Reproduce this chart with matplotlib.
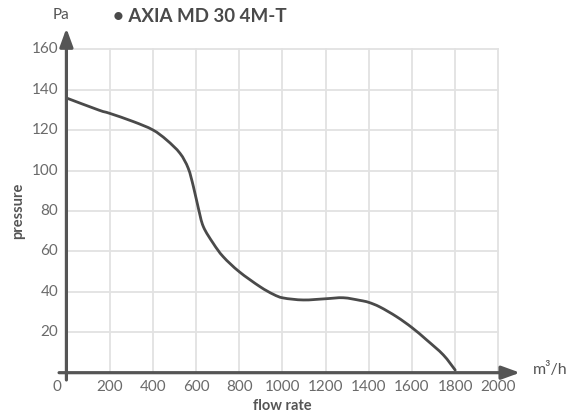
import matplotlib
matplotlib.use("Agg")
import matplotlib.pyplot as plt
from matplotlib.path import Path
from matplotlib.patches import PathPatch

# fan curve
flow = [0, 150, 200, 310, 400, 464, 526, 564, 588, 611, 634, 680, 726, 800,
        896, 958, 1004, 1097, 1200, 1282, 1359, 1400, 1452, 1529, 1600, 1668,
        1745, 1800]
pressure = [136, 130, 128.4, 124.3, 120.2, 115.2, 108.6, 101.2, 92.1, 81.4,
            72.3, 64, 57.4, 50, 42.6, 38.8, 37, 36, 36.6, 37.1, 35.8, 34.8,
            32.5, 27.7, 22.3, 16.2, 8.8, 1.3]

x_ticks = [200, 400, 600, 800, 1000, 1200, 1400, 1600, 1800, 2000]
y_ticks = [20, 40, 60, 80, 100, 120, 140, 160]

dark = "#555555"
grey = "#6a6a6a"
plt.rcParams['font.family'] = ['Lato', 'DejaVu Sans']

fig = plt.figure(figsize=(5.73, 4.18), dpi=100)
ax = fig.add_axes([0.1159, 0.1084, 0.7539, 0.7732])
ax.set_xlim(0, 2000)
ax.set_ylim(0, 160)
for s in ax.spines.values():
    s.set_visible(False)
ax.set_xticks([])
ax.set_yticks([])

# grid
for xv in x_ticks:
    ax.plot([xv, xv], [0, 160], color="#e2e2e2", lw=1.3, zorder=1, clip_on=False)
for yv in y_ticks:
    ax.plot([0, 2000], [yv, yv], color="#e2e2e2", lw=1.3, zorder=1, clip_on=False)

# smooth curve through the read points (catmull-rom as bezier segments)
pts = list(zip(flow, pressure))
verts = [pts[0]]
codes = [Path.MOVETO]
for i in range(len(pts) - 1):
    p0 = pts[max(i - 1, 0)]
    p1 = pts[i]
    p2 = pts[i + 1]
    p3 = pts[min(i + 2, len(pts) - 1)]
    c1 = (p1[0] + (p2[0] - p0[0]) / 6, p1[1] + (p2[1] - p0[1]) / 6)
    c2 = (p2[0] - (p3[0] - p1[0]) / 6, p2[1] - (p3[1] - p1[1]) / 6)
    verts += [c1, c2, p2]
    codes += [Path.CURVE4] * 3
ax.add_patch(PathPatch(Path(verts, codes), facecolor='none', edgecolor="#4a4a4a",
                       lw=2, zorder=3, capstyle='round'))

# axes with arrows
arrow = '-|>,head_length=0.55,head_width=0.2'
ax.annotate("", xy=(0, 170.5), xytext=(0, -3.6), annotation_clip=False,
            arrowprops=dict(arrowstyle=arrow, color=dark, lw=2.3,
                            mutation_scale=20, shrinkA=0, shrinkB=0))
ax.annotate("", xy=(2100, 0), xytext=(-34, 0), annotation_clip=False,
            arrowprops=dict(arrowstyle=arrow, color=dark, lw=2.3,
                            mutation_scale=20, shrinkA=0, shrinkB=0))

for xv in x_ticks:
    ax.text(xv, -7.1, str(xv), ha='center', va='center', fontsize=11, color=grey)
ax.text(-43, -7.1, "0", ha='center', va='center', fontsize=11, color=grey)
for yv in y_ticks:
    ax.text(-38, yv, str(yv), ha='right', va='center', fontsize=11, color=grey)

ax.text(-25, 177, "Pa", ha='center', va='center', fontsize=11, color=dark)
ax.text(215, 176.5, "• AXIA MD 30 4M-T", ha='left', va='center', fontsize=13.5,
        color="#4a4a4a", fontweight='bold')
ax.text(2160, 1.8, "m³/h", ha='left', va='center', fontsize=11.5, color=dark)
ax.text(1000, -16.5, "flow rate", ha='center', va='center', fontsize=10.5,
        color=dark, fontweight='bold')
ax.text(-222, 80, "pressure", ha='center', va='center', rotation=90,
        fontsize=10.5, color=dark, fontweight='bold')

fig.savefig("out.png", dpi=100)
